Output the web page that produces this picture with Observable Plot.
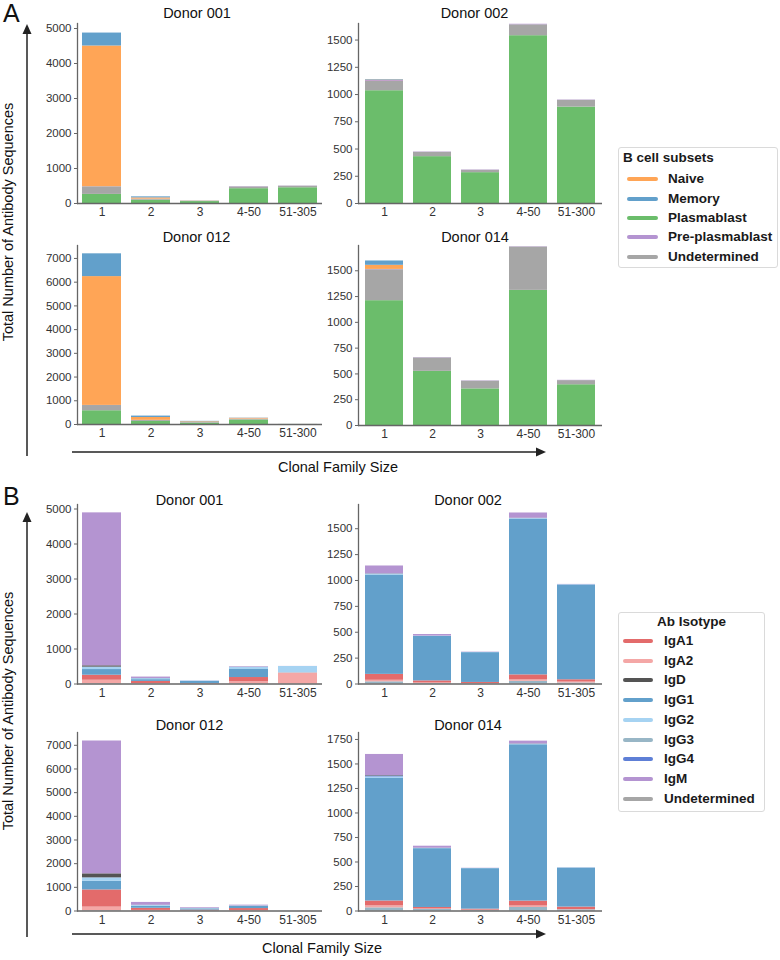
<!DOCTYPE html>
<html><head><meta charset="utf-8">
<script src="https://cdn.jsdelivr.net/npm/d3@7"></script>
<script src="https://cdn.jsdelivr.net/npm/@observablehq/plot@0.6"></script>
<style>
body{margin:0;background:#fff;}
#root{position:relative;width:780px;height:960px;font-family:"Liberation Sans",Arial,sans-serif;overflow:hidden;background:#fff;}
.panel{position:absolute;}
.legbox{position:absolute;border:1px solid #dadada;border-radius:3px;background:#fff;box-sizing:border-box;}
.legtxt{position:absolute;font-weight:bold;font-size:13.5px;color:#1a1a1a;line-height:16px;white-space:nowrap;}
.legline{position:absolute;height:4px;border-radius:2px;}
#overlay{position:absolute;left:0;top:0;}
</style></head><body><div id="root"></div>
<script>
// ---------- categories / tick labels ----------
const sizesA001 = ["1", "2", "3", "4-50", "51-305"];
const sizesA002 = ["1", "2", "3", "4-50", "51-300"];
const sizesA012 = ["1", "2", "3", "4-50", "51-300"];
const sizesA014 = ["1", "2", "3", "4-50", "51-300"];
const sizesB = ["1", "2", "3", "4-50", "51-305"];

const ticks5000 = [0, 1000, 2000, 3000, 4000, 5000];
const ticks7000 = [0, 1000, 2000, 3000, 4000, 5000, 6000, 7000];
const ticks1500 = [0, 250, 500, 750, 1000, 1250, 1500];
const ticks1750 = [0, 250, 500, 750, 1000, 1250, 1500, 1750];

// ---------- panel A: B cell subsets ----------
const subsetNames = ["Naive", "Memory", "Plasmablast", "Pre-plasmablast", "Undetermined"];
const subsetStack = ["Plasmablast", "Undetermined", "Pre-plasmablast", "Naive", "Memory"];
const subsetColors = ["#ffa556", "#62a0cb", "#6bbd6b", "#b494d1", "#a6a6a6"];

// rows follow subsetNames; columns follow the clonal family sizes
const subsetsD001 = [
  [4020, 35, 5, 0, 0],
  [370, 30, 3, 0, 0],
  [260, 95, 55, 423, 450],
  [3, 5, 2, 8, 5],
  [217, 25, 10, 50, 45]
];
const subsetsD002 = [
  [5, 0, 0, 0, 0],
  [5, 0, 0, 0, 0],
  [1035, 430, 283, 1540, 885],
  [8, 3, 3, 5, 3],
  [85, 40, 22, 100, 62]
];
const subsetsD012 = [
  [5430, 120, 30, 30, 0],
  [960, 60, 20, 10, 0],
  [580, 130, 60, 190, 2],
  [5, 5, 3, 10, 0],
  [220, 40, 20, 30, 1]
];
const subsetsD014 = [
  [40, 0, 0, 0, 0],
  [42, 0, 0, 0, 0],
  [1210, 525, 355, 1310, 395],
  [3, 3, 3, 3, 3],
  [300, 130, 75, 420, 40]
];

// ---------- panel B: antibody isotypes ----------
const isotypeNames = ["IgA1", "IgA2", "IgD", "IgG1", "IgG2", "IgG3", "IgG4", "IgM", "Undetermined"];
const isotypeStack = ["Undetermined", "IgG3", "IgA2", "IgA1", "IgG1", "IgG2", "IgG4", "IgD", "IgM"];
const isotypeColors = ["#e36b6b", "#f4a7a6", "#545454", "#62a0cb", "#a6d3f2", "#98b6c6", "#5e7fd6", "#b494d1", "#a6a6a6"];

const isotypesD001 = [
  [143, 60, 10, 120, 5],
  [100, 10, 3, 60, 310],
  [38, 3, 0, 3, 0],
  [162, 50, 60, 230, 5],
  [66, 30, 10, 60, 180],
  [5, 2, 1, 3, 0],
  [3, 1, 0, 1, 0],
  [4370, 40, 5, 15, 2],
  [3, 2, 1, 2, 0]
];
const isotypesD002 = [
  [57, 20, 10, 48, 22],
  [15, 5, 2, 14, 9],
  [2, 0, 0, 2, 0],
  [960, 429, 288, 1505, 915],
  [8, 3, 2, 5, 3],
  [20, 5, 3, 25, 10],
  [2, 1, 0, 2, 1],
  [75, 15, 3, 50, 2],
  [1, 0, 0, 1, 0]
];
const isotypesD012 = [
  [725, 90, 30, 80, 0],
  [150, 20, 5, 20, 0],
  [169, 5, 2, 3, 0],
  [363, 90, 50, 90, 1],
  [143, 30, 15, 20, 0],
  [10, 3, 2, 2, 0],
  [5, 2, 1, 1, 0],
  [5612, 120, 30, 30, 1],
  [5, 2, 1, 1, 0]
];
const isotypesD014 = [
  [50, 15, 10, 50, 25],
  [20, 5, 2, 15, 3],
  [5, 1, 0, 2, 0],
  [1250, 600, 413, 1595, 398],
  [15, 3, 2, 5, 2],
  [30, 15, 6, 35, 12],
  [10, 1, 0, 2, 0],
  [215, 20, 2, 28, 1],
  [2, 1, 1, 1, 0]
];

// ---------- helpers ----------
const root = document.getElementById("root");
const FONT = '"Liberation Sans", Arial, sans-serif';

function toRows(names, stack, matrix, sizes) {
  const rows = [];
  for (const g of stack) {
    const gi = names.indexOf(g);
    sizes.forEach((s, i) => rows.push({size: s, group: g, value: matrix[gi][i]}));
  }
  return rows;
}

function panel(cfg) {
  const ML = 45, MR = 8, MT = 30, MB = 24;
  const w = cfg.w, h = cfg.bottom - cfg.top;
  const rows = toRows(cfg.names, cfg.stack, cfg.matrix, cfg.sizes);
  const chart = Plot.plot({
    width: ML + w + MR, height: MT + h + MB,
    marginLeft: ML, marginRight: MR, marginTop: MT, marginBottom: MB,
    style: {fontFamily: FONT, fontSize: "11.5px", color: "#333", background: "transparent", overflow: "visible"},
    x: {domain: cfg.sizes, paddingInner: 0.2, paddingOuter: 0.1, label: null},
    y: {domain: [0, cfg.yMax], label: null},
    color: {domain: cfg.names, range: cfg.colors},
    marks: [
      Plot.barY(rows, {x: "size", y: "value", fill: "group"}),
      Plot.ruleY([0], {stroke: "#666", strokeWidth: 1.3}),
      Plot.frame({anchor: "left", stroke: "#666", strokeWidth: 1.3}),
      Plot.axisY({ticks: cfg.ticks, tickFormat: d => String(d), tickSize: 3, tickPadding: 3, label: null, stroke: "#666", fill: "#333", fontSize: 11.5}),
      Plot.axisX({tickSize: 0, tickPadding: 4, label: null, fill: "#333", fontSize: 12}),
      Plot.text([cfg.title], {text: d => d, frameAnchor: "top", dy: cfg.titleDy, dx: cfg.titleDx, fontSize: 14.5, fill: "#111"})
    ]
  });
  const div = document.createElement("div");
  div.className = "panel";
  div.style.left = (cfg.left - ML) + "px";
  div.style.top = (cfg.top - MT) + "px";
  div.appendChild(chart);
  root.appendChild(div);
}

const L = 77, R = 358, WL = 245, WR = 244;
const common = {
  A: {names: subsetNames, stack: subsetStack, colors: subsetColors},
  B: {names: isotypeNames, stack: isotypeStack, colors: isotypeColors}
};

panel({...common.A, title: "Donor 001", sizes: sizesA001, matrix: subsetsD001, left: L, w: WL, top: 23, bottom: 203, yMax: 5143, ticks: ticks5000, titleDy: -16, titleDx: -3});
panel({...common.A, title: "Donor 002", sizes: sizesA002, matrix: subsetsD002, left: R, w: WR, top: 23, bottom: 203, yMax: 1652, ticks: ticks1500, titleDy: -16, titleDx: -6});
panel({...common.A, title: "Donor 012", sizes: sizesA012, matrix: subsetsD012, left: L, w: WL, top: 245, bottom: 424, yMax: 7546, ticks: ticks7000, titleDy: -13.5, titleDx: -3.5});
panel({...common.A, title: "Donor 014", sizes: sizesA014, matrix: subsetsD014, left: R, w: WR, top: 245, bottom: 425, yMax: 1745, ticks: ticks1500, titleDy: -13.5, titleDx: -5.5});

panel({...common.B, title: "Donor 001", sizes: sizesB, matrix: isotypesD001, left: L, w: WL, top: 503.5, bottom: 683, yMax: 5129, ticks: ticks5000, titleDy: -9.5, titleDx: -10.5});
panel({...common.B, title: "Donor 002", sizes: sizesB, matrix: isotypesD002, left: R, w: WR, top: 503.5, bottom: 683, yMax: 1734, ticks: ticks1500, titleDy: -9.5, titleDx: -12.5});
panel({...common.B, title: "Donor 012", sizes: sizesB, matrix: isotypesD012, left: L, w: WL, top: 731.5, bottom: 910, yMax: 7541, ticks: ticks7000, titleDy: -12.5, titleDx: -10.5});
panel({...common.B, title: "Donor 014", sizes: sizesB, matrix: isotypesD014, left: R, w: WR, top: 731.5, bottom: 910, yMax: 1821, ticks: ticks1750, titleDy: -12.5, titleDx: -12.5});

// ---------- legends ----------
function legend(cfg) {
  const box = document.createElement("div");
  box.className = "legbox";
  Object.assign(box.style, {left: cfg.x + "px", top: cfg.y + "px", width: cfg.w + "px", height: cfg.h + "px"});
  root.appendChild(box);
  const t = document.createElement("div");
  t.className = "legtxt";
  t.textContent = cfg.title;
  if (cfg.titleCenter) {
    Object.assign(t.style, {left: cfg.x + "px", width: cfg.w + "px", textAlign: "center", top: (cfg.titleY - 8) + "px"});
  } else {
    Object.assign(t.style, {left: cfg.titleX + "px", top: (cfg.titleY - 8) + "px"});
  }
  root.appendChild(t);
  cfg.names.forEach((n, i) => {
    const cy = cfg.itemY + i * cfg.step;
    const ln = document.createElement("div");
    ln.className = "legline";
    Object.assign(ln.style, {left: cfg.lineX + "px", width: cfg.lineW + "px", top: (cy - 2) + "px", background: cfg.colors[i]});
    root.appendChild(ln);
    const tx = document.createElement("div");
    tx.className = "legtxt";
    tx.textContent = n;
    Object.assign(tx.style, {left: cfg.textX + "px", top: (cy - 8) + "px"});
    root.appendChild(tx);
  });
}

legend({title: "B cell subsets", names: subsetNames, colors: subsetColors, x: 618, y: 147, w: 160, h: 121,
  titleX: 623, titleY: 157.5, itemY: 179.3, step: 19.35, lineX: 627, lineW: 31, textX: 668});
legend({title: "Ab Isotype", names: isotypeNames, colors: isotypeColors, x: 618, y: 612, w: 147, h: 200,
  titleCenter: true, titleY: 622, itemY: 641, step: 19.72, lineX: 623, lineW: 30, textX: 664});

// ---------- arrows, panel letters, shared axis titles ----------
const ns = "http://www.w3.org/2000/svg";
const ov = document.createElementNS(ns, "svg");
ov.setAttribute("id", "overlay");
ov.setAttribute("width", 780);
ov.setAttribute("height", 960);
ov.innerHTML = `
  <g stroke="#222" stroke-width="1.5" fill="#222">
    <line x1="27" y1="456" x2="27" y2="32"/><polygon points="27,24 22.5,34 31.5,34" stroke="none"/>
    <line x1="72" y1="452" x2="537" y2="452"/><polygon points="546,452 536,447.5 536,456.5" stroke="none"/>
    <line x1="27" y1="937" x2="27" y2="520"/><polygon points="27,512 22.5,522 31.5,522" stroke="none"/>
    <line x1="72" y1="934" x2="537" y2="934"/><polygon points="546,934 536,929.5 536,938.5" stroke="none"/>
  </g>
  <g font-family='${FONT}' fill="#111">
    <text x="3" y="22" font-size="25">A</text>
    <text x="3" y="505" font-size="25">B</text>
    <text transform="translate(13,222) rotate(-90)" text-anchor="middle" font-size="14.5">Total Number of Antibody Sequences</text>
    <text transform="translate(13,711) rotate(-90)" text-anchor="middle" font-size="14.5">Total Number of Antibody Sequences</text>
    <text x="338" y="472" text-anchor="middle" font-size="14.5">Clonal Family Size</text>
    <text x="322" y="953" text-anchor="middle" font-size="14.5">Clonal Family Size</text>
  </g>`;
root.appendChild(ov);
</script></body></html>
